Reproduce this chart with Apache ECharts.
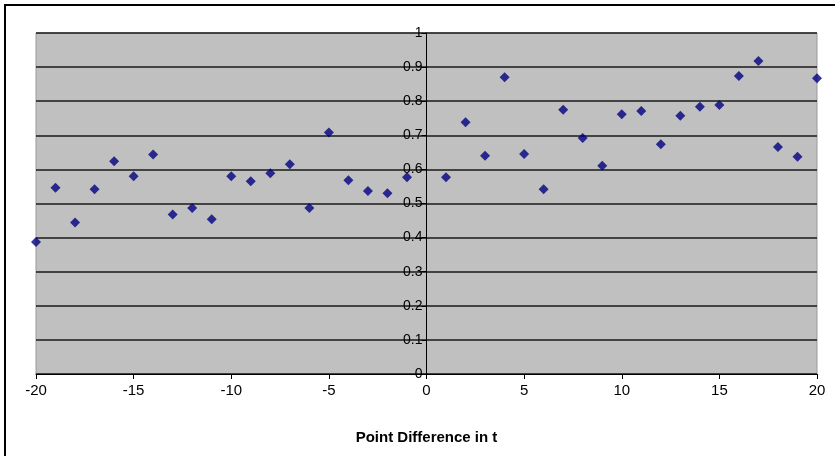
<!DOCTYPE html>
<html>
<head>
<meta charset="utf-8">
<script src="https://cdn.jsdelivr.net/npm/echarts@6/dist/echarts.min.js"></script>
<style>
  html, body { margin: 0; padding: 0; background: #fff; }
  #chart { width: 835px; height: 456px; }
</style>
</head>
<body>
<div id="chart"></div>
<script>
// point difference in t
var xValues = [-20, -19, -18, -17, -16, -15, -14, -13, -12, -11, -10, -9, -8, -7, -6, -5, -4, -3, -2, -1,
               1, 2, 3, 4, 5, 6, 7, 8, 9, 10, 11, 12, 13, 14, 15, 16, 17, 18, 19, 20];
var yValues = [0.387, 0.546, 0.444, 0.542, 0.624, 0.580, 0.644, 0.468, 0.487, 0.454,
               0.580, 0.565, 0.589, 0.615, 0.487, 0.708, 0.568, 0.537, 0.530, 0.577,
               0.577, 0.738, 0.640, 0.870, 0.645, 0.542, 0.775, 0.692, 0.611, 0.762,
               0.771, 0.674, 0.757, 0.784, 0.789, 0.874, 0.918, 0.666, 0.637, 0.867];
var xTitle = 'Point Difference in t';

var points = xValues.map(function (x, i) { return [x, yValues[i]]; });

var gridLeft = 36, gridRight = 18;
var chartW = 835;
// pixel shift so the y axis (with its labels) sits on x = 0
var zeroShift = (chartW - gridLeft - gridRight) / 2;

var chart = echarts.init(document.getElementById('chart'));
chart.setOption({
  animation: false,
  backgroundColor: '#fff',
  graphic: [{
    type: 'rect',
    shape: { x: 5, y: 5, width: 840, height: 460 },
    style: { fill: 'none', stroke: '#000', lineWidth: 2 },
    silent: true
  }],
  grid: {
    left: gridLeft, right: gridRight, top: 33, bottom: 82,
    show: true,
    backgroundColor: '#c0c0c0',
    borderColor: '#9a9a9a',
    borderWidth: 1
  },
  xAxis: {
    type: 'value',
    min: -20, max: 20, interval: 5,
    name: xTitle,
    nameLocation: 'middle',
    nameGap: 56,
    nameTextStyle: { fontFamily: 'Liberation Sans', fontSize: 15, fontWeight: 'bold', color: '#000' },
    axisLine: { show: true, lineStyle: { color: '#000', width: 1 } },
    axisTick: { show: true, length: 5, lineStyle: { color: '#000' } },
    axisLabel: { fontFamily: 'Liberation Sans', fontSize: 15, color: '#000', margin: 9 },
    splitLine: { show: false }
  },
  yAxis: {
    type: 'value',
    min: 0, max: 1, interval: 0.1,
    offset: -zeroShift,
    axisLine: { show: true, onZero: false, lineStyle: { color: '#000', width: 1 } },
    axisTick: { show: true, length: 5, lineStyle: { color: '#000' } },
    axisLabel: {
      fontFamily: 'Liberation Sans', fontSize: 14, color: '#000', margin: 4,
      formatter: function (v) { return String(Math.round(v * 10) / 10); }
    },
    splitLine: { show: true, lineStyle: { color: '#1a1a1a', width: 1.5 } }
  },
  series: [{
    type: 'scatter',
    data: points,
    symbol: 'diamond',
    symbolSize: 10,
    itemStyle: { color: '#000080' }
  }]
});
</script>
</body>
</html>
